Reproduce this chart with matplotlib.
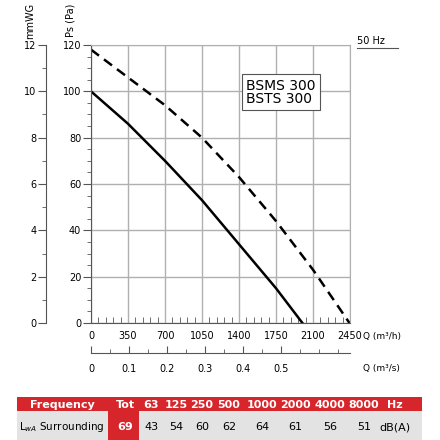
import numpy as np
import matplotlib.pyplot as plt
from matplotlib.patches import Rectangle

# curve data
q_solid = [0, 350, 700, 1050, 1400, 1750, 2000]
ps_solid = [100, 86, 70, 53, 34, 15, 0]
q_dash = [0, 350, 700, 1050, 1400, 1750, 2100, 2445]
ps_dash = [118, 106, 94, 80, 63, 44, 23, 0]

freq_labels = ['Tot', '63', '125', '250', '500', '1000', '2000', '4000', '8000', 'Hz']
lwa_values = ['69', '43', '54', '60', '62', '64', '61', '56', '51', 'dB(A)']

red = '#d7262b'
gray = '#e3e3e3'

fig = plt.figure(figsize=(4.4, 4.4), dpi=100)
ax = fig.add_axes([91/440, 1-323/440, 259/440, 278/440])
ax.plot(q_solid, ps_solid, color='black', lw=1.8)
ax.plot(q_dash, ps_dash, color='black', lw=1.8, ls=(0, (4, 2.5)))
ax.set_xlim(0, 2450)
ax.set_ylim(0, 120)
ax.set_xticks(np.arange(0, 2451, 350))
ax.set_yticks(np.arange(0, 121, 20))
ax.set_xticks(np.arange(0, 2451, 70), minor=True)
ax.set_yticks(np.arange(0, 121, 5), minor=True)
ax.grid(True, color='#b0b0b0', lw=1)
for s in ['top', 'right']:
    ax.spines[s].set_color('#b0b0b0')
ax.spines['left'].set_color('#555')
ax.spines['bottom'].set_color('#555')
ax.tick_params(axis='x', which='both', direction='in', labelsize=7, color='#555')
ax.tick_params(axis='x', which='major', length=0, pad=6)
ax.tick_params(axis='x', which='minor', length=4)
ax.tick_params(axis='y', which='major', length=6, labelsize=7, color='#555', pad=1)
ax.tick_params(axis='y', which='minor', length=3, color='#555')
ax.text(-0.08, 1.03, 'Ps (Pa)', transform=ax.transAxes, rotation=90, fontsize=7,
        ha='center', va='bottom')
ax.text(1.05, -0.05, 'Q (m³/h)', transform=ax.transAxes, fontsize=6.5, va='center')
ax.text(0.6, 0.83, 'BSMS 300\nBSTS 300', transform=ax.transAxes, fontsize=10,
        linespacing=0.95, va='center', ha='left',
        bbox=dict(boxstyle='square,pad=0.3', fc='white', ec='#555', lw=0.8))

# mmWG axis
ax2 = fig.add_axes([46/440, 1-323/440, 0.001, 278/440])
ax2.set_ylim(0, 12)
ax2.set_yticks(np.arange(0, 13, 2))
ax2.set_yticks(np.arange(0, 13, 1), minor=True)
ax2.set_xticks([])
for s in ['top', 'right', 'bottom']:
    ax2.spines[s].set_visible(False)
ax2.spines['left'].set_color('#555')
ax2.tick_params(axis='y', which='major', length=6, labelsize=7, color='#555', pad=1)
ax2.tick_params(axis='y', which='minor', length=3, color='#555')
fig.text(30/440, 1-3/440, 'mmWG', rotation=90, fontsize=7, ha='center', va='top')

# m3/s axis
ax3 = fig.add_axes([91/440, 1-353/440, 259/440, 0.001])
ax3.set_xlim(0, 2450/3600)
ax3.set_xticks(np.arange(0, 0.51, 0.1))
ax3.set_xticks(np.arange(0, 0.66, 0.05), minor=True)
ax3.set_yticks([])
for s in ['top', 'right', 'left']:
    ax3.spines[s].set_visible(False)
ax3.spines['bottom'].set_color('#555')
ax3.tick_params(axis='x', which='both', direction='in', labelsize=7, color='#555', pad=8)
ax3.tick_params(axis='x', which='major', length=5)
ax3.tick_params(axis='x', which='minor', length=3)
ax3.xaxis.set_major_formatter(lambda v, p: '0' if v == 0 else f'{v:.1f}')
fig.text(1.05*259/440 + 91/440, 1-368/440, 'Q (m³/s)', fontsize=6.5, va='center')

fig.text(357/440, 1-41/440, '50 Hz', fontsize=7, va='center')
fig.add_artist(plt.Line2D([357/440, 398/440], [1-48/440, 1-48/440], color='#555', lw=0.8))

# sound table
fig.add_artist(Rectangle((17/440, 1-411/440), 405/440, 14/440, color=red, lw=0))
fig.add_artist(Rectangle((17/440, 0), 405/440, 29/440, color=gray, lw=0))
fig.add_artist(Rectangle((108/440, 0), 31/440, 29/440, color=red, lw=0))
xs = [125, 151, 176, 202, 229, 262, 295, 330, 364, 395]
fig.text(62/440, 1-405/440, 'Frequency', fontsize=8, color='white', weight='bold',
         ha='center', va='center')
fig.text(62/440, 1-427/440, 'L$_{wA}$ Surrounding', fontsize=7.5, ha='center', va='center')
for x, f, v in zip(xs, freq_labels, lwa_values):
    fig.text(x/440, 1-405/440, f, fontsize=8, color='white', weight='bold',
             ha='center', va='center')
    fig.text(x/440, 1-427/440, v, fontsize=8, ha='center', va='center',
             color='white' if f == 'Tot' else 'black', weight='bold' if f == 'Tot' else 'normal')

fig.savefig('out.png', dpi=100)
